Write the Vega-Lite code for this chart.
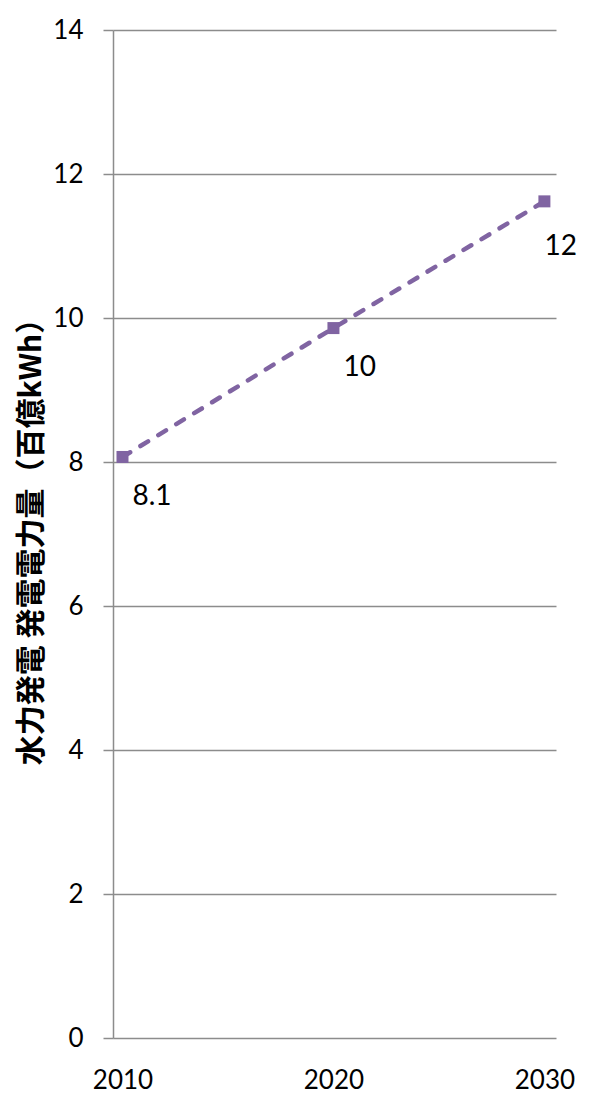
{
  "$schema": "https://vega.github.io/schema/vega-lite/v6.json",
  "width": 443,
  "height": 1008,
  "autosize": {"type": "none"},
  "padding": {"left": 113, "top": 30, "right": 36, "bottom": 57},
  "background": "#ffffff",
  "config": {
    "view": {"stroke": null},
    "font": "Lato",
    "axis": {
      "labelFont": "Lato",
      "labelFontSize": 26,
      "labelColor": "#000000",
      "gridColor": "#8c8c8c",
      "gridWidth": 1.5,
      "domainColor": "#8c8c8c",
      "domainWidth": 1.5,
      "tickColor": "#8c8c8c",
      "tickWidth": 1.5
    }
  },
  "data": {
    "values": [
      {"year": 2010, "value": 8.07, "label": "8.1"},
      {"year": 2020, "value": 9.86, "label": "10"},
      {"year": 2030, "value": 11.62, "label": "12"}
    ]
  },
  "encoding": {
    "x": {
      "field": "year",
      "type": "quantitative",
      "scale": {"domain": [2009.55, 2030.55], "nice": false, "zero": false},
      "axis": {
        "values": [2010, 2020, 2030],
        "format": "d",
        "title": null,
        "grid": false,
        "ticks": false,
        "domain": false,
        "labelPadding": 29,
        "labelFlush": false
      }
    },
    "y": {
      "field": "value",
      "type": "quantitative",
      "scale": {"domain": [0, 14], "nice": false},
      "axis": {
        "values": [0, 2, 4, 6, 8, 10, 12, 14],
        "title": "水力発電 発電電力量（百億kWh）",
        "titleFont": "Noto Sans CJK JP",
        "titleFontSize": 30,
        "titleFontWeight": "bold",
        "titleColor": "#000000",
        "titlePadding": 6,
        "tickSize": 10,
        "labelPadding": 20,
        "grid": true,
        "domain": true
      }
    }
  },
  "layer": [
    {
      "mark": {
        "type": "line",
        "color": "#8064a2",
        "strokeWidth": 4.5,
        "strokeDash": [9, 12],
        "strokeCap": "round"
      }
    },
    {
      "mark": {
        "type": "point",
        "shape": "square",
        "filled": true,
        "size": 144,
        "color": "#8064a2",
        "opacity": 1
      }
    },
    {
      "transform": [{"filter": "datum.year < 2030"}],
      "mark": {
        "type": "text",
        "align": "left",
        "baseline": "middle",
        "dx": 10,
        "dy": 40,
        "fontSize": 28,
        "font": "Lato",
        "color": "#000000"
      },
      "encoding": {"text": {"field": "label"}}
    },
    {
      "transform": [{"filter": "datum.year == 2030"}],
      "mark": {
        "type": "text",
        "align": "left",
        "baseline": "middle",
        "dx": 0,
        "dy": 46,
        "fontSize": 28,
        "font": "Lato",
        "color": "#000000"
      },
      "encoding": {"text": {"field": "label"}}
    }
  ]
}
